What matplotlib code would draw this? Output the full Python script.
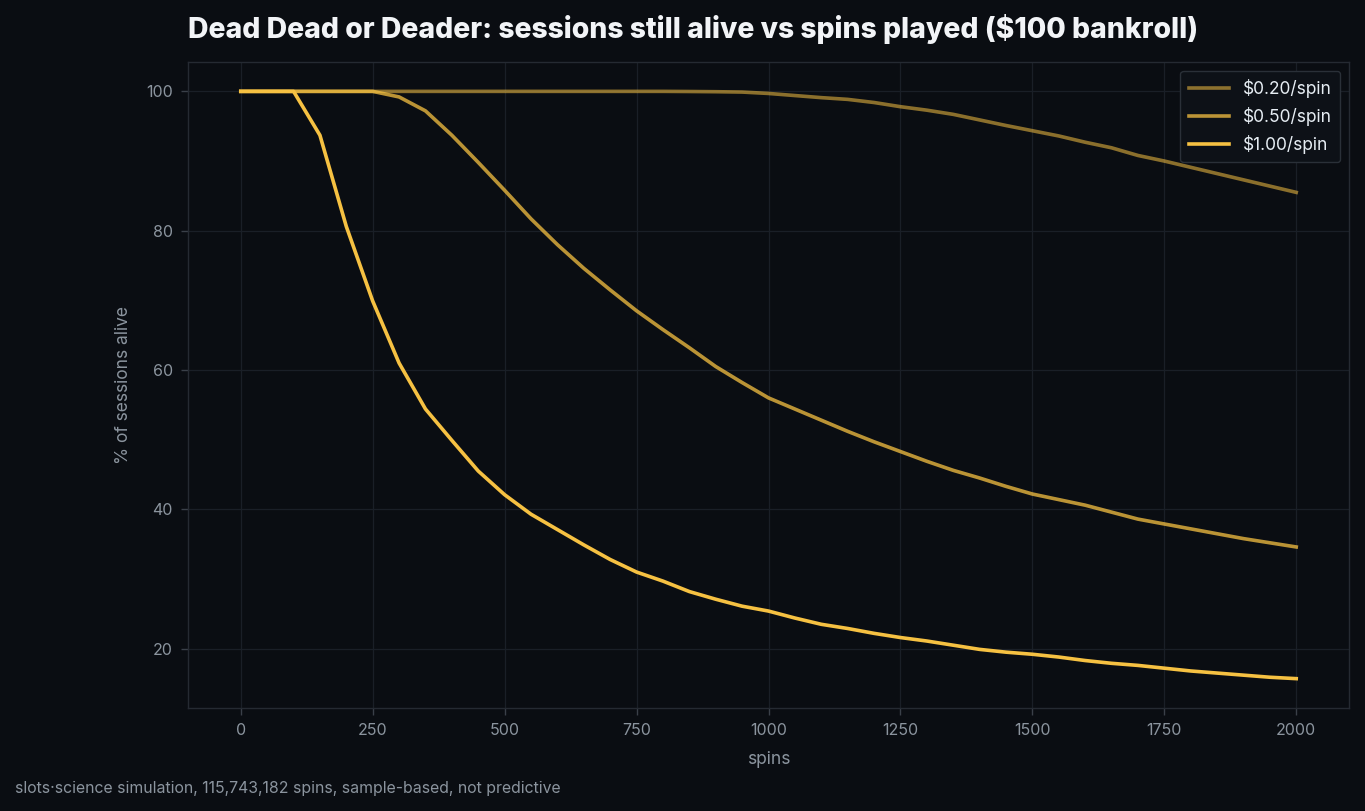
import matplotlib
matplotlib.use("Agg")
import matplotlib.pyplot as plt

spins = list(range(0, 2001, 50))

alive_020 = [100, 100, 100, 100, 100, 100, 100, 100, 100, 100,
             100, 100, 100, 100, 100, 100, 100, 99.98, 99.95, 99.9,
             99.7, 99.4, 99.1, 98.85, 98.4, 97.8, 97.3, 96.7, 95.9, 95.1,
             94.35, 93.6, 92.7, 91.9, 90.8, 90.0, 89.1, 88.2, 87.3, 86.4,
             85.5]

alive_050 = [100, 100, 100, 100, 100, 100, 99.2, 97.2, 93.7, 89.8,
             85.8, 81.7, 78.0, 74.6, 71.5, 68.5, 65.8, 63.2, 60.5, 58.2,
             56.0, 54.4, 52.8, 51.2, 49.7, 48.3, 46.9, 45.6, 44.5, 43.3,
             42.2, 41.4, 40.6, 39.6, 38.6, 37.9, 37.2, 36.5, 35.8, 35.2,
             34.6]

alive_100 = [100, 100, 100, 93.7, 80.6, 69.9, 61.0, 54.4, 49.9, 45.5,
             42.1, 39.3, 37.1, 34.9, 32.8, 31.0, 29.7, 28.2, 27.1, 26.1,
             25.4, 24.4, 23.5, 22.9, 22.2, 21.6, 21.1, 20.5, 19.9, 19.5,
             19.2, 18.8, 18.3, 17.9, 17.6, 17.2, 16.8, 16.5, 16.2, 15.9,
             15.7]

labels = ["$0.20/spin", "$0.50/spin", "$1.00/spin"]
series = [alive_020, alive_050, alive_100]
alphas = [0.55, 0.75, 1.0]

BG = "#0a0d12"
GOLD = "#f6c142"
TICK = "#8b949e"

plt.rcParams['font.family'] = ['Inter', 'DejaVu Sans']

fig = plt.figure(figsize=(13.65, 8.11), dpi=100, facecolor=BG)
ax = fig.add_axes([188/1365, 1 - 708/811, (1349-188)/1365, (708-62)/811])
ax.set_facecolor(BG)

for lab, ys, a in zip(labels, series, alphas):
    ax.plot(spins, ys, color=GOLD, alpha=a, lw=2.6, label=lab)

ax.grid(True, color="#1a1f27", lw=0.9)
ax.set_axisbelow(True)
for s in ax.spines.values():
    s.set_color("#252a32")
    s.set_linewidth(1.0)
ax.tick_params(colors=TICK, labelsize=11.5, length=5, width=1, pad=6, color="#3a4049")
ax.set_xticks([0, 250, 500, 750, 1000, 1250, 1500, 1750, 2000])
ax.set_yticks([20, 40, 60, 80, 100])
ax.set_xlabel("spins", color=TICK, fontsize=12.5, labelpad=9)
ax.set_ylabel("% of sessions alive", color=TICK, fontsize=12.5, labelpad=10)

ax.set_title("Dead Dead or Deader: sessions still alive vs spins played ($100 bankroll)",
             loc="left", color="#f2f4f7", fontsize=20.4, fontweight="heavy", pad=17)

leg = ax.legend(loc="upper right", facecolor="#0d1117", edgecolor="#2a3038",
                labelcolor="#e6edf3", fontsize=12.5, framealpha=1.0,
                handlelength=2.3, borderpad=0.5, labelspacing=0.5)
leg.get_frame().set_linewidth(1.0)

fig.text(15/1365, 1 - 788/811, "slots·science simulation, 115,743,182 spins, sample-based, not predictive",
         color=TICK, fontsize=11.4, va="center", ha="left")

fig.savefig("out.png", dpi=100, facecolor=BG)
